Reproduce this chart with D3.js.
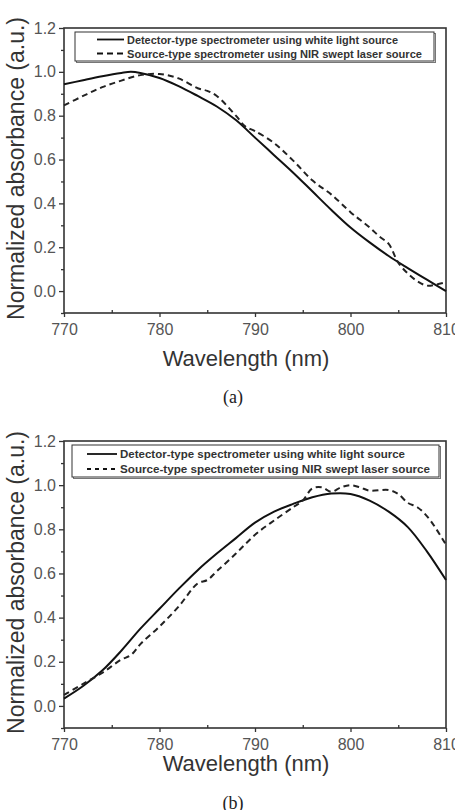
<!DOCTYPE html>
<html>
<head>
<meta charset="utf-8">
<script src="https://cdn.jsdelivr.net/npm/d3@7"></script>
<style>
  body { margin: 0; background: #fff; }
  svg text { font-family: "Liberation Sans", Arial, sans-serif; }
</style>
</head>
<body>
<div id="chart"></div>
<script>
// wavelength grid and series
const wlA = [770,772,774,776,777,778,780,782,784,786,788,790,792,794,796,798,800,802,804,806,808,810];
const solidA = [0.943,0.962,0.98,0.995,1.0,0.995,0.972,0.935,0.89,0.842,0.78,0.70,0.62,0.54,0.455,0.37,0.29,0.222,0.16,0.105,0.052,0.0];
const wlDashA = [770,772,774,776,778,780,782,784,785,786,788,789,790,792,794,796,798,800,801,802,803,804,805,806,807,808,809,810];
const dashA = [0.847,0.89,0.93,0.96,0.985,0.99,0.97,0.925,0.913,0.89,0.80,0.75,0.73,0.675,0.595,0.505,0.44,0.36,0.325,0.29,0.25,0.215,0.13,0.08,0.045,0.025,0.03,0.04];

const wlB = [770,772,774,776,778,780,782,784,786,788,790,792,794,796,798,800,802,804,806,808,810];
const solidB = [0.033,0.09,0.16,0.25,0.35,0.44,0.53,0.615,0.69,0.76,0.83,0.88,0.915,0.945,0.962,0.96,0.93,0.88,0.81,0.70,0.57];
const wlDashB = [770,772,774,776,777,778,780,782,784,785,786,788,790,792,794,795,796,797,798,799,800,801,802,804,805,806,807,808,809,810];
const dashB = [0.05,0.10,0.15,0.21,0.23,0.28,0.36,0.45,0.555,0.57,0.61,0.69,0.775,0.84,0.90,0.93,0.985,0.99,0.97,0.99,1.0,0.99,0.975,0.978,0.96,0.92,0.90,0.86,0.80,0.73];

const xTicks = [770,780,790,800,810];
const yTicks = [0.0,0.2,0.4,0.6,0.8,1.0,1.2];
const legendLabels = ["Detector-type spectrometer using white light source",
                      "Source-type spectrometer using NIR swept laser source"];

const svg = d3.select("#chart").append("svg").attr("width", 455).attr("height", 810);

function panel(top, bottom, wl1, s1, wl2, s2, legend, tag) {
  const left = 64, right = 446;
  const x = d3.scaleLinear().domain([770, 810]).range([left, right]);
  const y = d3.scaleLinear().domain([-0.1, 1.2]).range([bottom, top]);
  const g = svg.append("g");

  // x axis with minor ticks
  g.append("g").attr("transform", `translate(0,${bottom})`)
    .call(d3.axisBottom(x).tickValues(d3.range(775, 810, 10)).tickSize(-3).tickFormat(""))
    .call(a => a.select(".domain").remove());
  g.append("g").attr("transform", `translate(0,${bottom})`)
    .call(d3.axisBottom(x).tickValues(xTicks).tickSize(4).tickPadding(7).tickFormat(d3.format("d")))
    .call(a => a.select(".domain").remove())
    .selectAll("text").attr("font-size", 16).attr("fill", "#555");

  // y axis with minor ticks
  g.append("g").attr("transform", `translate(${left},0)`)
    .call(d3.axisLeft(y).tickValues([-0.1,0.1,0.3,0.5,0.7,0.9,1.1]).tickSize(3).tickFormat(""))
    .call(a => a.select(".domain").remove());
  g.append("g").attr("transform", `translate(${left},0)`)
    .call(d3.axisLeft(y).tickValues(yTicks).tickSize(5).tickPadding(3).tickFormat(d3.format(".1f")))
    .call(a => a.select(".domain").remove())
    .selectAll("text").attr("font-size", 16).attr("fill", "#555");
  g.selectAll(".tick line").attr("stroke", "#333").attr("stroke-width", 1.3);

  // frame
  g.append("rect").attr("x", left).attr("y", top).attr("width", right - left).attr("height", bottom - top)
    .attr("fill", "none").attr("stroke", "#333").attr("stroke-width", 1.6);

  const line = d3.line().curve(d3.curveCatmullRom).x(d => x(d[0])).y(d => y(d[1]));
  g.append("path").datum(d3.zip(wl1, s1)).attr("d", line)
    .attr("fill", "none").attr("stroke", "#111").attr("stroke-width", 2);
  g.append("path").datum(d3.zip(wl2, s2)).attr("d", line)
    .attr("fill", "none").attr("stroke", "#222").attr("stroke-width", 2).attr("stroke-dasharray", "6,4");

  // legend
  const L = legend;
  g.append("rect").attr("x", L.x + 1.5).attr("y", L.y + 1.5).attr("width", L.w).attr("height", L.h)
    .attr("fill", "none").attr("stroke", "#777").attr("stroke-width", 1);
  g.append("rect").attr("x", L.x).attr("y", L.y).attr("width", L.w).attr("height", L.h)
    .attr("fill", "#fff").attr("stroke", "#333").attr("stroke-width", 1);
  legendLabels.forEach((t, i) => {
    const ly = L.y + L.row0 + i * L.dy;
    g.append("line").attr("x1", L.sx1).attr("x2", L.sx2).attr("y1", ly).attr("y2", ly)
      .attr("stroke", "#111").attr("stroke-width", 1.8)
      .attr("stroke-dasharray", i ? L.dash : null);
    g.append("text").attr("x", L.tx).attr("y", ly + 4).attr("font-size", 11).attr("font-weight", "bold")
      .attr("fill", "#333").attr("textLength", L.tw[i]).attr("lengthAdjust", "spacingAndGlyphs").text(t);
  });

  // axis titles
  g.append("text").attr("x", 246).attr("y", bottom + (tag === "(a)" ? 53 : 43))
    .attr("text-anchor", "middle").attr("font-size", 22).attr("fill", "#333").text("Wavelength (nm)");
  g.append("text").attr("transform", `translate(24,${(top + bottom) / 2 - 2}) rotate(-90)`)
    .attr("text-anchor", "middle").attr("font-size", 23).attr("fill", "#333").text("Normalized absorbance (a.u.)");
  g.append("text").attr("x", 233).attr("y", bottom + (tag === "(a)" ? 90 : 81))
    .attr("text-anchor", "middle").attr("font-size", 18).attr("fill", "#222")
    .style("font-family", "'Liberation Serif', 'Times New Roman', serif").text(tag);
}

panel(28, 313, wlA, solidA, wlDashA, dashA,
  {x: 75, y: 32, w: 359, h: 29, row0: 7.5, dy: 14, sx1: 97, sx2: 124, tx: 127, tw: [271, 295], dash: "6,4"}, "(a)");
panel(441, 728, wlB, solidB, wlDashB, dashB,
  {x: 72, y: 445, w: 367, h: 32, row0: 9, dy: 15, sx1: 87, sx2: 117, tx: 120, tw: [285, 310], dash: "4,4"}, "(b)");
</script>
</body>
</html>
